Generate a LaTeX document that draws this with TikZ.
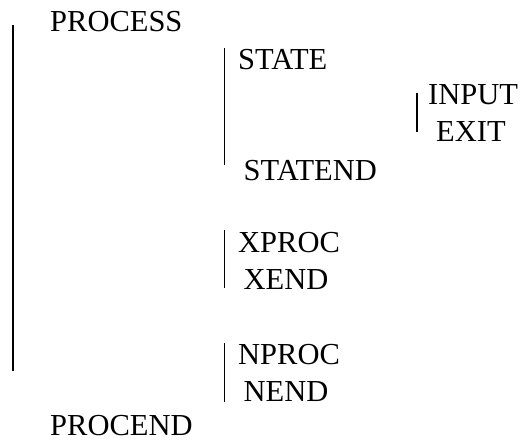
\documentclass[tikz,border=0pt]{standalone}
\usepackage{fontspec}
\setmainfont{Liberation Serif}
\usetikzlibrary{positioning}

\tikzset{
kw/.style={anchor=base west, inner sep=0pt, font=\fontsize{30.5}{36}\selectfont},
bar/.style={line width=1.4pt}
}

\begin{document}
\begin{tikzpicture}[x=1pt,y=-1pt]

\useasboundingbox (0,0) rectangle (521,441);

%%%%%%%%%%%%%%%%%%%%%%%%%%%%%%%%%%%%%%%%%%%%%%%%%%%%%%%%%%%%
% PROCESS block
%%%%%%%%%%%%%%%%%%%%%%%%%%%%%%%%%%%%%%%%%%%%%%%%%%%%%%%%%%%%

\node[kw](process) at (50,31.5) {PROCESS};
\node[kw](procend) at (50,435) {PROCEND};

\coordinate (proctop) at (13,25);
\coordinate (procbot) at (13,371);
\draw[bar] (proctop) -- (procbot);

%%%%%%%%%%%%%%%%%%%%%%%%%%%%%%%%%%%%%%%%%%%%%%%%%%%%%%%%%%%%
% STATE block
%%%%%%%%%%%%%%%%%%%%%%%%%%%%%%%%%%%%%%%%%%%%%%%%%%%%%%%%%%%%

\node[kw](state) at (238,69.5) {STATE};
\node[kw](statend) at (243.5,180) {STATEND};

\coordinate (statetop) at (224.5,48.5);
\coordinate (statebot) at (224.5,165);
\draw[bar] (statetop) -- (statebot);

% input / exit
\node[kw](input) at (428,105) {INPUT};
\node[kw](exit) at (436,141.5) {EXIT};

\coordinate (inputtop) at (417,93);
\coordinate (inputbot) at (417,132);
\draw[bar] (inputtop) -- (inputbot);

%%%%%%%%%%%%%%%%%%%%%%%%%%%%%%%%%%%%%%%%%%%%%%%%%%%%%%%%%%%%
% XPROC block
%%%%%%%%%%%%%%%%%%%%%%%%%%%%%%%%%%%%%%%%%%%%%%%%%%%%%%%%%%%%

\node[kw](xproc) at (238,252) {XPROC};
\node[kw](xend) at (243.5,289) {XEND};

\coordinate (xproctop) at (224.5,230);
\coordinate (xprocbot) at (224.5,288);
\draw[bar] (xproctop) -- (xprocbot);

%%%%%%%%%%%%%%%%%%%%%%%%%%%%%%%%%%%%%%%%%%%%%%%%%%%%%%%%%%%%
% NPROC block
%%%%%%%%%%%%%%%%%%%%%%%%%%%%%%%%%%%%%%%%%%%%%%%%%%%%%%%%%%%%

\node[kw](nproc) at (238,364) {NPROC};
\node[kw](nend) at (243.5,401) {NEND};

\coordinate (nproctop) at (224.5,343);
\coordinate (nprocbot) at (224.5,402);
\draw[bar] (nproctop) -- (nprocbot);

\end{tikzpicture}
\end{document}
